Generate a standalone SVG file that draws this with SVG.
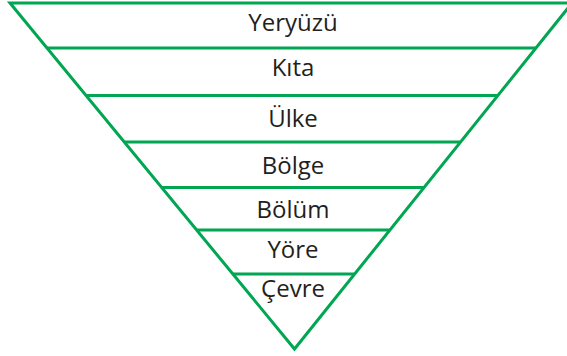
<svg xmlns="http://www.w3.org/2000/svg" width="567" height="356" viewBox="0 0 567 356">
<style>
.ln{stroke:#00a651;stroke-width:3;fill:none;stroke-linecap:butt;stroke-linejoin:miter}
.t{font-family:"Open Sans","Noto Sans",sans-serif;font-size:24px;fill:#231f20;text-anchor:middle}
</style>
<rect width="567" height="356" fill="#ffffff"/>
<g id="connectors">
<path class="ln" d="M10,3 L294.5,349 L572,3 Z"/>
<line class="ln" x1="47" y1="48" x2="536" y2="48"/>
<line class="ln" x1="86" y1="95.5" x2="498" y2="95.5"/>
<line class="ln" x1="124.3" y1="142" x2="460.5" y2="142"/>
<line class="ln" x1="161.7" y1="187.5" x2="424" y2="187.5"/>
<line class="ln" x1="196.7" y1="230" x2="390" y2="230"/>
<line class="ln" x1="232.8" y1="274" x2="354.7" y2="274"/>
</g>
<g id="yeryuzu"><text class="t" x="293" y="31">Yeryüzü</text></g>
<g id="kita"><text class="t" x="293" y="76">Kıta</text></g>
<g id="ulke"><text class="t" x="293" y="126.5">Ülke</text></g>
<g id="bolge"><text class="t" x="293" y="174">Bölge</text></g>
<g id="bolum"><text class="t" x="293" y="217.5">Bölüm</text></g>
<g id="yore"><text class="t" x="293" y="257.5">Yöre</text></g>
<g id="cevre"><text class="t" x="293" y="296.5">Çevre</text></g>
</svg>
